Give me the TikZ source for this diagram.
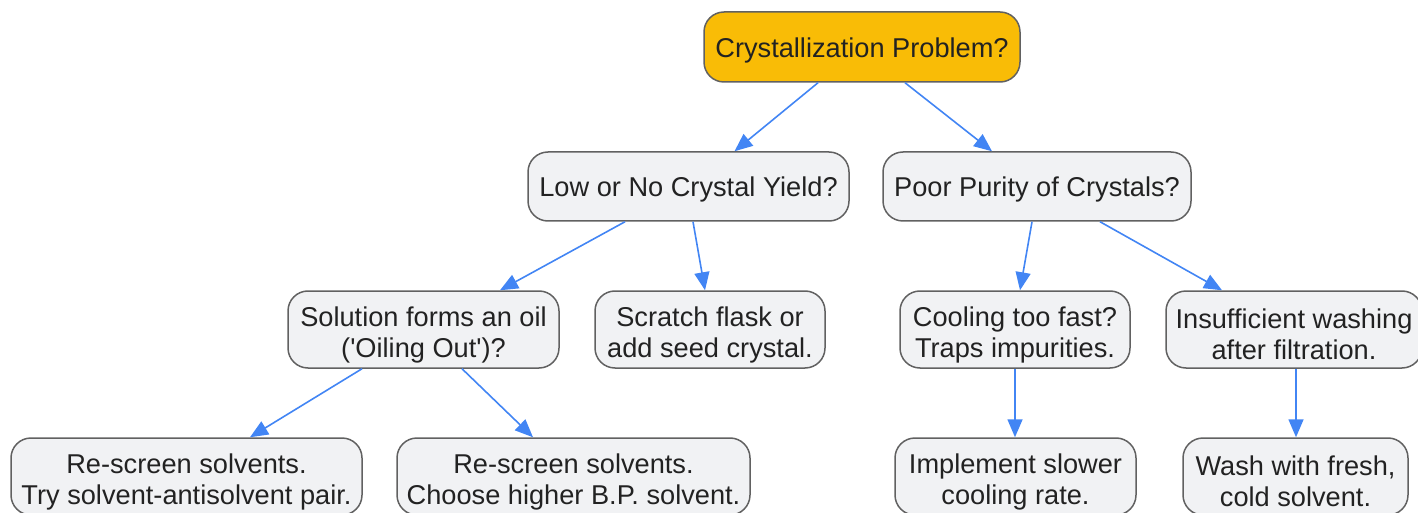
\documentclass[tikz,border=0pt]{standalone}
\usepackage{fontspec}
\setmainfont{Liberation Sans}
\usetikzlibrary{arrows.meta}
\definecolor{boxgray}{HTML}{F1F2F4}
\definecolor{edgegray}{HTML}{616161}
\definecolor{topfill}{HTML}{F9BC06}
\definecolor{arrowblue}{HTML}{4285F4}
\definecolor{textdark}{HTML}{222222}
\tikzset{
  boxbase/.style={draw=edgegray, fill=boxgray, rounded corners=10pt, line width=0.75pt,
    align=center, text=textdark, inner sep=0pt, font=\fontsize{13.6pt}{15.5pt}\selectfont},
  box/.style={boxbase, execute at begin node={\rule{0pt}{13pt}}},
  box2/.style={boxbase, execute at begin node={\rule{0pt}{30.5pt}}},
  topbox/.style={box, fill=topfill},
  link/.style={draw=arrowblue, line width=0.8pt, -{Triangle[length=9pt,width=7.5pt]}},
}
\begin{document}
\begin{tikzpicture}[x=0.5pt,y=-0.5pt]
\useasboundingbox (0,0) rectangle (1418,513);
\node[topbox, minimum width=158pt, minimum height=35pt] (top) at (862,47) {Crystallization Problem?};
\node[box, minimum width=160.5pt, minimum height=34.5pt] (low) at (688.5,186.5) {Low or No Crystal Yield?};
\node[box, minimum width=154pt, minimum height=34.5pt] (poor) at (1037,186.5) {Poor Purity of Crystals?};
\node[box2, minimum width=135.5pt, minimum height=38.5pt] (sol) at (423.5,329.5) {Solution forms an oil\\(\textquotesingle Oiling Out\textquotesingle)?};
\node[box2, minimum width=115pt, minimum height=38.5pt] (scr) at (710,329.5) {Scratch flask or\\add seed crystal.};
\node[box2, minimum width=115pt, minimum height=38.5pt] (cool) at (1015,329.5) {Cooling too fast?\\Traps impurities.};
\node[box2, minimum width=128pt, minimum height=38.5pt] (ins) at (1294,329.5) {Insufficient washing\\after filtration.};
\node[box2, minimum width=175.5pt, minimum height=38.5pt] (rs1) at (186.5,476.5) {Re-screen solvents.\\Try solvent-antisolvent pair.};
\node[box2, minimum width=176.5pt, minimum height=38.5pt] (rs2) at (573.5,476.5) {Re-screen solvents.\\Choose higher B.P. solvent.};
\node[box2, minimum width=120.5pt, minimum height=38.5pt] (impl) at (1015.5,476.5) {Implement slower\\cooling rate.};
\node[box2, minimum width=112.5pt, minimum height=38.5pt] (wash) at (1295.5,476.5) {Wash with fresh,\\cold solvent.};
\draw[link] ([xshift=-22pt]top.south) -- ([xshift=23pt]low.north);
\draw[link] ([xshift=21.5pt]top.south) -- ([xshift=-22.5pt]poor.north);
\draw[link] ([xshift=-31.75pt]low.south) -- ([xshift=38.25pt]sol.north);
\draw[link] ([xshift=2.25pt]low.south) -- ([xshift=-2.5pt]scr.north);
\draw[link] ([xshift=-2.5pt]poor.south) -- ([xshift=2.5pt]cool.north);
\draw[link] ([xshift=31.5pt]poor.south) -- ([xshift=-36pt]ins.north);
\draw[link] ([xshift=-30.75pt]sol.south) -- ([xshift=31.75pt]rs1.north);
\draw[link] ([xshift=19.25pt]sol.south) -- ([xshift=-20.25pt]rs2.north);
\draw[link] (cool.south) -- (impl.north -| cool.south);
\draw[link] ([xshift=1pt]ins.south) -- ([xshift=0.25pt]wash.north);
\end{tikzpicture}
\end{document}
